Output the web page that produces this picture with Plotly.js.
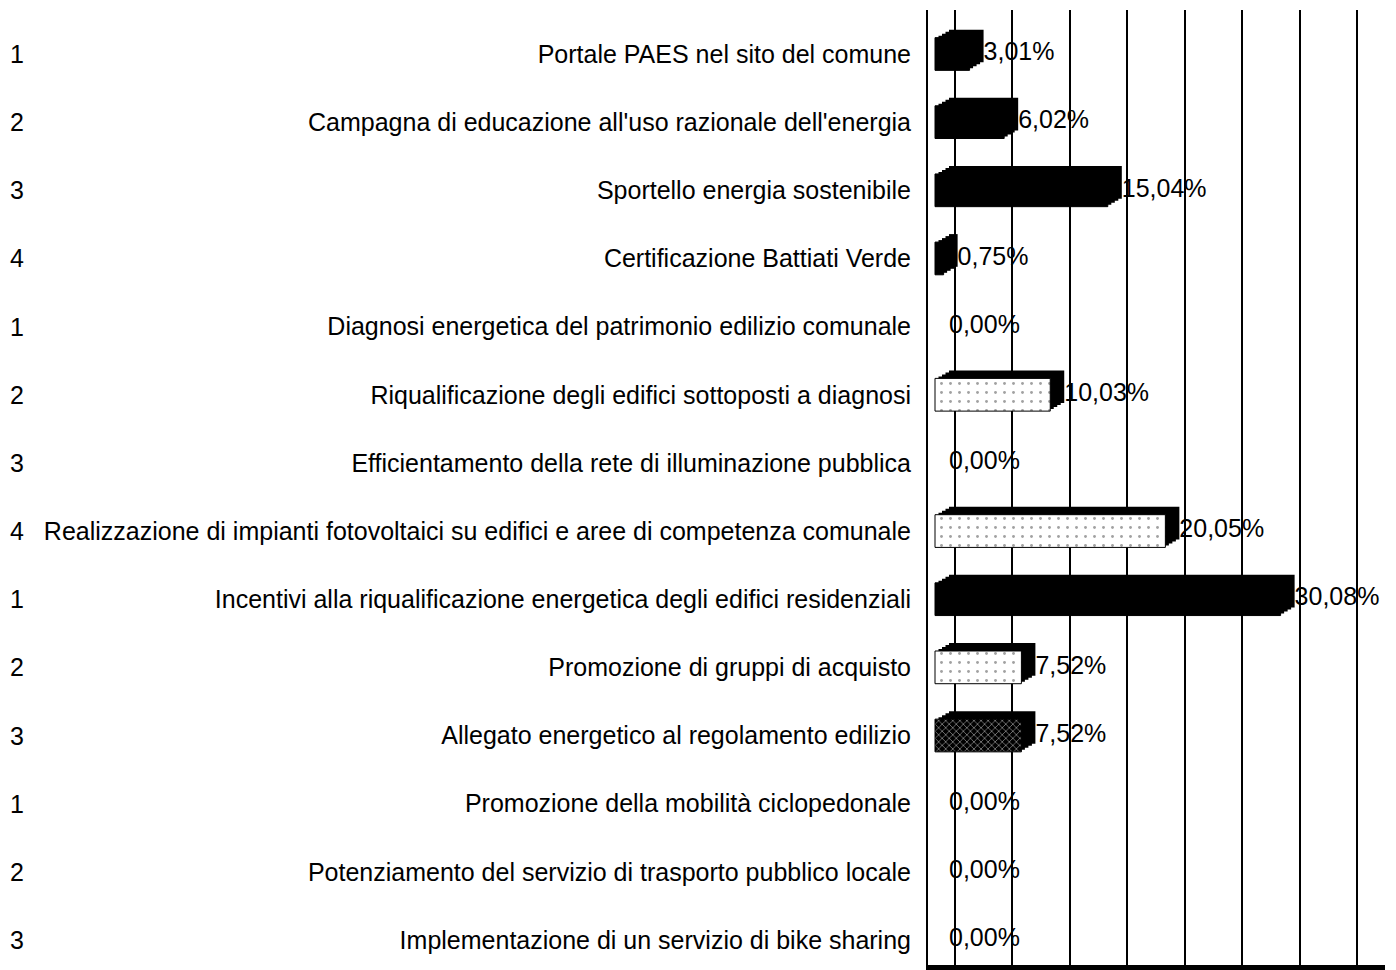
<!DOCTYPE html>
<html>
<head>
<meta charset="utf-8">
<script src="https://cdn.plot.ly/plotly-3.0.1.min.js"></script>
<style>
  html, body { margin: 0; padding: 0; background: #ffffff; }
  #chart { width: 1396px; height: 970px; }
</style>
</head>
<body>
<div id="chart"></div>
<script>
// ---- data ----
const categories = [
  "Portale PAES nel sito del comune",
  "Campagna di educazione all'uso razionale dell'energia",
  "Sportello energia sostenibile",
  "Certificazione Battiati Verde",
  "Diagnosi energetica del patrimonio edilizio comunale",
  "Riqualificazione degli edifici sottoposti a diagnosi",
  "Efficientamento della rete di illuminazione pubblica",
  "Realizzazione di impianti fotovoltaici su edifici e aree di competenza comunale",
  "Incentivi alla riqualificazione energetica degli edifici residenziali",
  "Promozione di gruppi di acquisto",
  "Allegato energetico al regolamento edilizio",
  "Promozione della mobilità ciclopedonale",
  "Potenziamento del servizio di trasporto pubblico locale",
  "Implementazione di un servizio di bike sharing"
];
const values = [3.01, 6.02, 15.04, 0.75, 0.00, 10.03, 0.00, 20.05, 30.08, 7.52, 7.52, 0.00, 0.00, 0.00];
const rowNumbers = ["1", "2", "3", "4", "1", "2", "3", "4", "1", "2", "3", "1", "2", "3"];
const gridTicks = [0, 5, 10, 15, 20, 25, 30, 35];

// ---- styles (kept separate from the data) ----
const fillKind = ["solid", "solid", "solid", "solid", "solid", "dots", "solid", "dots", "solid", "dots", "hatch", "solid", "solid", "solid"];
const FONT = "Liberation Sans, Arial, sans-serif";
const LABEL_SIZE = 25;

const patShape = fillKind.map(k => k === "dots" ? "." : (k === "hatch" ? "x" : ""));
const patFg = fillKind.map(k => k === "dots" ? "#8a8a8a" : (k === "hatch" ? "#b8b8b8" : "#000000"));
const patSize = fillKind.map(k => k === "dots" ? 9 : 5);
const patSolid = fillKind.map(k => k === "dots" ? 0.08 : 0.3);
const frontColor = fillKind.map(k => k === "dots" ? "#ffffff" : "#000000");
const lineW = values.map(v => v > 0 ? 1 : 0);

const labels = values.map(v => v.toFixed(2).replace(".", ",") + "%");

// ---- geometry (pixels of the plot area) ----
const plotL = 928, plotR = 1385, plotT = 10, plotB = 965;
const pxPerUnit = 11.49;                 // pixels per percentage point
const rowStep = 68.15, firstRow = 54;    // row spacing and centre of first row
const zeroPx = 935;                      // front face start
const depthX = 14 / pxPerUnit;           // 3D depth, horizontal (in axis units)
const depthY = 8 / rowStep;              // 3D depth, vertical (in category units)
const wallShift = 20 / pxPerUnit;        // back wall grid offset
const barW = 0.48;
const depthSteps = [1, 0.75, 0.5, 0.25]; // layers of the dark depth faces

const idx = categories.map((c, i) => i);

// dark depth layers (back to front) giving the top and side faces of the 3D bars
const depthTraces = depthSteps.map(f => ({
  type: "bar", orientation: "h",
  x: values, y: idx,
  base: depthX * f,
  width: barW, offset: -barW / 2 - depthY * f,
  marker: { color: "#000000", line: { width: 0 } },
  hoverinfo: "skip", showlegend: false
}));

const traces = depthTraces.concat([
  // front face of each bar
  {
    type: "bar", orientation: "h",
    x: values, y: idx,
    width: barW, offset: -barW / 2,
    marker: {
      color: frontColor,
      line: { color: "#000000", width: lineW },
      pattern: { shape: patShape, fgcolor: patFg, size: patSize, solidity: patSolid, fillmode: "overlay" }
    },
    hoverinfo: "skip", showlegend: false
  },
  // value labels at the end of each bar
  {
    type: "scatter", mode: "text",
    x: values.map(v => v + depthX), y: idx,
    text: labels, textposition: "middle right",
    textfont: { family: FONT, size: LABEL_SIZE, color: "#000000" },
    hoverinfo: "skip", showlegend: false, cliponaxis: false
  }
]);

const annotations = rowNumbers.map((n, i) => ({
  xref: "paper", yref: "y",
  x: (8 - plotL) / (plotR - plotL), y: i,
  xanchor: "left", yanchor: "middle",
  text: n, showarrow: false,
  font: { family: FONT, size: LABEL_SIZE, color: "#000000" }
}));

const layout = {
  width: 1396, height: 970,
  margin: { l: plotL, r: 1396 - plotR, t: plotT, b: 970 - plotB, pad: 0 },
  paper_bgcolor: "#ffffff", plot_bgcolor: "#ffffff",
  showlegend: false,
  barmode: "overlay",
  xaxis: {
    range: [(plotL - zeroPx) / pxPerUnit, (plotR - zeroPx) / pxPerUnit],
    tickmode: "array", tickvals: gridTicks.map(t => t + wallShift),
    showgrid: true, gridcolor: "#000000", gridwidth: 2,
    zeroline: false, showticklabels: false, ticks: "",
    showline: true, linecolor: "#000000", linewidth: 5,
    fixedrange: true
  },
  yaxis: {
    range: [(plotB - firstRow) / rowStep, (plotT - firstRow) / rowStep],
    tickmode: "array", tickvals: idx, ticktext: categories,
    showgrid: false, zeroline: false, ticks: "",
    showline: true, linecolor: "#000000", linewidth: 2,
    ticklabelstandoff: 10,
    tickfont: { family: FONT, size: LABEL_SIZE, color: "#000000" },
    fixedrange: true
  },
  annotations: annotations
};

Plotly.newPlot("chart", traces, layout, { displayModeBar: false, staticPlot: true });
</script>
</body>
</html>
